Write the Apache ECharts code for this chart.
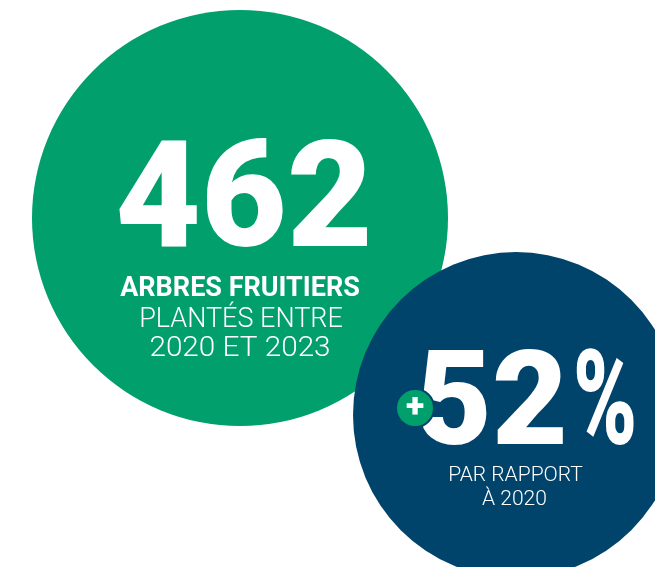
<!DOCTYPE html>
<html>
<head>
<meta charset="utf-8">
<script src="https://cdn.jsdelivr.net/npm/echarts@6/dist/echarts.min.js"></script>
<style>
html,body{margin:0;padding:0;background:#fff;}
#c{width:655px;height:567px;}
</style>
</head>
<body>
<div id="c"></div>
<script>
// ---- data ----
const treesPlanted = 462;
const growthPercent = 52;
const growthSign = '+';
const treesCaption = ['ARBRES FRUITIERS', 'PLANTÉS ENTRE', '2020 ET 2023'];
const growthCaption = ['PAR RAPPORT', 'À 2020'];

const GREEN = '#009f6b';
const BLUE = '#00436b';
const FONT = 'Roboto';

function txt(text, x, y, size, weight, sx, z) {
  return {
    type: 'text', x: x, y: y + size * 0.115, scaleX: sx || 1, z: z || 10,
    style: {
      text: text, x: 0, y: 0, fill: '#ffffff',
      font: weight + ' ' + size + 'px ' + FONT,
      align: 'center', verticalAlign: 'middle'
    }
  };
}

const chart = echarts.init(document.getElementById('c'), null, {renderer: 'canvas'});
const g = [];
g.push({type: 'circle', z: 1, shape: {cx: 240, cy: 218, r: 208}, style: {fill: GREEN}});
g.push({type: 'circle', z: 2, shape: {cx: 516, cy: 415, r: 163}, style: {fill: BLUE}});
// big number 1
g.push(txt(String(treesPlanted), 244, 192, 148, 900, 1));
g.push(txt(treesCaption[0], 240, 286.5, 27, 700, 1));
g.push(txt(treesCaption[1], 241, 317.5, 27, 300, 1));
g.push(txt(treesCaption[2], 240, 346.5, 27, 300, 1.1));
// big number 2
g.push(txt(String(growthPercent), 492, 396.5, 131, 900, 1));
g.push(txt('%', 605, 396.5, 131, 900, 0.66));
g.push({type: 'circle', z: 20, shape: {cx: 415, cy: 408, r: 19}, style: {fill: GREEN, stroke: BLUE, lineWidth: 2}});
g.push(txt(growthSign, 415, 405, 34, 900, 1, 21));
g.push(txt(growthCaption[0], 515.5, 473, 21, 300, 1));
g.push(txt(growthCaption[1], 514.5, 497, 21, 300, 1));

chart.setOption({animation: false, graphic: {elements: g}});
</script>
</body>
</html>
